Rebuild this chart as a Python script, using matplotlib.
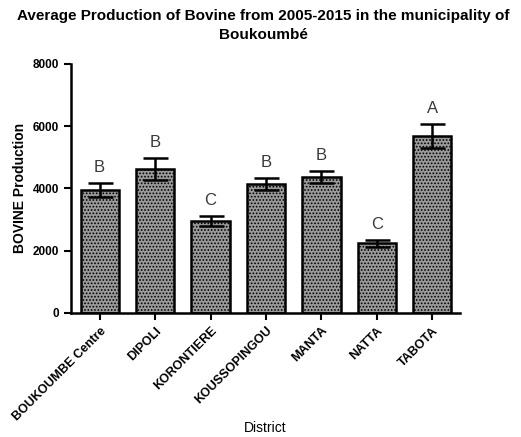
import numpy as np
import matplotlib
matplotlib.use("Agg")
import matplotlib.pyplot as plt

plt.rcParams['font.family'] = ['Liberation Sans', 'DejaVu Sans']
plt.rcParams['hatch.color'] = '#3a3a3a'
plt.rcParams['hatch.linewidth'] = 0.8

districts = ["BOUKOUMBE Centre", "DIPOLI", "KORONTIERE", "KOUSSOPINGOU",
             "MANTA", "NATTA", "TABOTA"]
production = [3950, 4620, 2950, 4140, 4370, 2230, 5690]
sem = [230, 350, 170, 200, 190, 120, 380]
groups = ["B", "B", "C", "B", "B", "C", "A"]

fig = plt.figure(figsize=(5.21, 4.37), dpi=100)
ax = fig.add_axes([0.136, 0.284, 0.747, 0.570])

x = np.arange(len(districts))
ax.bar(x, production, width=0.69, color='#9a9a9a', edgecolor='black',
       linewidth=1.8, hatch='.....', zorder=2)
ax.errorbar(x, production, yerr=sem, fmt='none', ecolor='black',
            elinewidth=1.8, capsize=9, capthick=1.8, zorder=3)

# significance letters above the error bars
for xi, val, err, g in zip(x, production, sem, groups):
    ax.text(xi, val + err + 250, g, ha='center', va='bottom',
            fontsize=12, color='#3a3a3a')

ax.set_xlim(-0.52, 6.5)
ax.set_ylim(0, 8000)
ax.set_yticks([0, 2000, 4000, 6000, 8000])
ax.set_xticks(x)
ax.set_xticklabels(districts, rotation=45, ha='right', rotation_mode='anchor',
                   fontsize=9, fontweight='bold')
for lab in ax.get_yticklabels():
    lab.set_fontsize(8.5)
    lab.set_fontweight('bold')

ax.spines['top'].set_visible(False)
ax.spines['right'].set_visible(False)
ax.spines['left'].set_linewidth(1.8)
ax.spines['bottom'].set_linewidth(1.8)
ax.tick_params(axis='both', direction='out', length=5, width=1.5)

ax.set_ylabel("BOVINE Production", fontsize=10, fontweight='bold')
ax.set_xlabel("District", fontsize=10)
ax.xaxis.set_label_coords(0.5, -0.435)
fig.suptitle("Average Production of Bovine from 2005-2015 in the municipality of\nBoukoumbé",
             fontsize=11, fontweight='bold', y=0.98, x=0.505, linespacing=1.45)

fig.savefig("out.png", dpi=100)
